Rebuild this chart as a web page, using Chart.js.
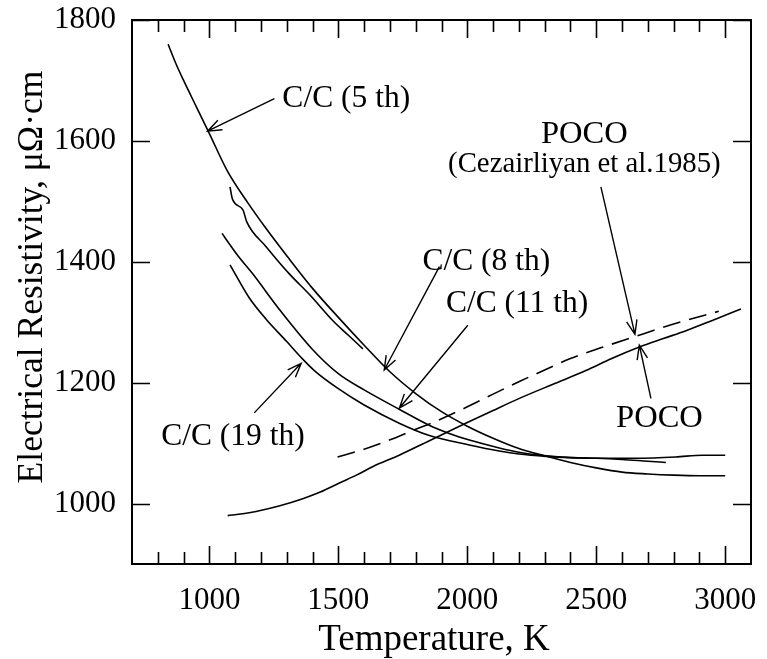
<!DOCTYPE html>
<html>
<head>
<meta charset="UTF-8">
<title>Electrical resistivity vs temperature</title>
<script src="https://cdn.jsdelivr.net/npm/chart.js"></script>
<style>
  html, body { margin: 0; padding: 0; background: #fff; }
  #wrap { width: 767px; height: 659px; position: relative; }
</style>
</head>
<body>
<div id="wrap"><canvas id="c"></canvas></div>
<script>
const FONT = "'Liberation Serif', 'Times New Roman', serif";

// tick labels
const xTicks = [1000, 1500, 2000, 2500, 3000];
const yTicks = [1000, 1200, 1400, 1600, 1800];

// C/C (5 th)
const cc5T = [840, 870, 900, 950, 1000, 1070, 1150, 1220, 1300, 1400, 1500, 1600, 1700, 1800, 1900, 2000, 2100, 2200, 2300, 2400, 2500, 2600, 2700, 2800, 2900, 3000];
const cc5R = [1760, 1728, 1700, 1656, 1612, 1550, 1497, 1455, 1410, 1356, 1308, 1262, 1218, 1182, 1152, 1128, 1108, 1091, 1079, 1068, 1059, 1052, 1049, 1047, 1046, 1046];

// C/C (8 th)
const cc8T = [1080, 1090, 1130, 1145, 1220, 1310, 1390, 1480, 1540, 1595];
const cc8R = [1524, 1503, 1486, 1466, 1425, 1380, 1345, 1302, 1278, 1256];

// C/C (11 th)
const cc11T = [1049, 1080, 1116, 1168, 1270, 1400, 1500, 1600, 1736, 1850, 1930, 2008, 2124, 2200, 2306, 2400, 2500, 2600, 2700, 2770];
const cc11R = [1447, 1428, 1407, 1380, 1322, 1255, 1215, 1188, 1156, 1130, 1116, 1105, 1092, 1085, 1079, 1076, 1075, 1073, 1070, 1068];

// C/C (19 th)
const cc19T = [1080, 1155, 1220, 1300, 1355, 1407, 1500, 1600, 1736, 1850, 2008, 2124, 2200, 2306, 2400, 2523, 2650, 2808, 2911, 3000];
const cc19R = [1395, 1340, 1305, 1268, 1242, 1220, 1190, 1163, 1133, 1113, 1097, 1087, 1082, 1078, 1076, 1075, 1075, 1077, 1080, 1080];

// POCO (this work)
const pocoT = [1071, 1130, 1181, 1270, 1362, 1430, 1504, 1570, 1633, 1736, 1853, 2000, 2100, 2202, 2330, 2460, 2560, 2667, 2760, 2848, 2950, 3061];
const pocoR = [980, 983, 987, 996, 1008, 1019, 1034, 1047, 1061, 1080, 1104, 1134, 1154, 1174, 1197, 1220, 1240, 1259, 1273, 1286, 1303, 1322];

// POCO (Cezairliyan et al. 1985)
const cezT = [1497, 1600, 1698, 1800, 1872, 2000, 2100, 2202, 2300, 2400, 2520, 2641, 2800, 2975];
const cezR = [1077, 1090, 1105, 1123, 1135, 1160, 1181, 1202, 1221, 1240, 1258, 1275, 1297, 1318];

function pts(t, r) { return t.map((v, i) => ({ x: v, y: r[i] })); }

// annotation texts (data units, baseline)
const notes = [
  { text: 'C/C (5 th)', x: 1283, y: 1656, size: 31.5, align: 'left' },
  { text: 'POCO', x: 2454, y: 1596, size: 32.5, align: 'center' },
  { text: '(Cezairliyan et al.1985)', x: 2454, y: 1549, size: 28.8, align: 'center' },
  { text: 'C/C (8 th)', x: 1826, y: 1386, size: 31.5, align: 'left' },
  { text: 'C/C (11 th)', x: 1917, y: 1317, size: 31.5, align: 'left' },
  { text: 'C/C (19 th)', x: 813, y: 1097, size: 31.5, align: 'left' },
  { text: 'POCO', x: 2577, y: 1127, size: 32.5, align: 'left' }
];
const arrows = [
  { from: [1252, 1670], to: [993, 1616] },
  { from: [2518, 1524], to: [2650, 1280] },
  { from: [1892, 1392], to: [1678, 1221] },
  { from: [2002, 1295], to: [1737, 1158] },
  { from: [1174, 1150], to: [1356, 1232] },
  { from: [2712, 1174], to: [2667, 1262] }
];

const line = (data, dash) => ({
  data: data,
  borderColor: '#000',
  borderWidth: 1.6,
  borderDash: dash || [],
  pointRadius: 0,
  fill: false,
  tension: 0.4,
  cubicInterpolationMode: 'monotone'
});

const decor = {
  id: 'decor',
  afterDraw(chart) {
    const ctx = chart.ctx;
    const a = chart.chartArea;
    const xs = chart.scales.x, ys = chart.scales.y;
    ctx.save();
    ctx.strokeStyle = '#000';
    ctx.fillStyle = '#000';
    // frame
    ctx.lineWidth = 2;
    ctx.strokeRect(a.left, a.top, a.right - a.left, a.bottom - a.top);
    // x ticks, top and bottom, inward
    ctx.lineWidth = 1.6;
    ctx.beginPath();
    for (let v = 800; v <= 3000; v += 100) {
      const px = Math.round(xs.getPixelForValue(v)) + 0.5;
      const len = xTicks.includes(v) ? 18 : 12;
      ctx.moveTo(px, a.bottom); ctx.lineTo(px, a.bottom - len);
      ctx.moveTo(px, a.top); ctx.lineTo(px, a.top + len);
    }
    // y ticks, left and right
    yTicks.forEach(v => {
      const py = Math.round(ys.getPixelForValue(v)) + 0.5;
      ctx.moveTo(a.left, py); ctx.lineTo(a.left + 18, py);
      ctx.moveTo(a.right, py); ctx.lineTo(a.right - 18, py);
    });
    ctx.stroke();

    // arrows
    ctx.lineWidth = 1.4;
    arrows.forEach(ar => {
      const x1 = xs.getPixelForValue(ar.from[0]), y1 = ys.getPixelForValue(ar.from[1]);
      const x2 = xs.getPixelForValue(ar.to[0]), y2 = ys.getPixelForValue(ar.to[1]);
      const ang = Math.atan2(y2 - y1, x2 - x1);
      const hl = 15, hw = 0.36;
      ctx.beginPath();
      ctx.moveTo(x1, y1); ctx.lineTo(x2, y2);
      ctx.moveTo(x2 - hl * Math.cos(ang - hw), y2 - hl * Math.sin(ang - hw));
      ctx.lineTo(x2, y2);
      ctx.lineTo(x2 - hl * Math.cos(ang + hw), y2 - hl * Math.sin(ang + hw));
      ctx.stroke();
    });

    // annotation texts
    ctx.textBaseline = 'alphabetic';
    notes.forEach(n => {
      ctx.font = n.size + 'px ' + FONT;
      ctx.textAlign = n.align;
      ctx.fillText(n.text, xs.getPixelForValue(n.x), ys.getPixelForValue(n.y));
    });

    // axis titles
    ctx.font = '37px ' + FONT;
    ctx.textAlign = 'center';
    ctx.fillText('Temperature, K', 434, 650);
    ctx.translate(33, 277);
    ctx.rotate(-Math.PI / 2);
    ctx.font = '35.5px ' + FONT;
    ctx.textBaseline = 'middle';
    ctx.fillText('Electrical Resistivity, μΩ·cm', 0, 0);
    ctx.restore();
  }
};

new Chart(document.getElementById('c'), {
  type: 'line',
  data: {
    datasets: [
      line(pts(cc5T, cc5R)),
      line(pts(cc8T, cc8R)),
      line(pts(cc11T, cc11R)),
      line(pts(cc19T, cc19R)),
      line(pts(pocoT, pocoR)),
      line(pts(cezT, cezR), [18, 9])
    ]
  },
  options: {
    responsive: true,
    maintainAspectRatio: false,
    animation: false,
    layout: { padding: { top: 20, right: 16, left: 0, bottom: 0 } },
    plugins: { legend: { display: false }, tooltip: { enabled: false } },
    scales: {
      x: {
        type: 'linear',
        min: 700,
        max: 3100,
        grid: { display: false, drawTicks: false },
        border: { display: false },
        ticks: { color: '#000', font: { family: FONT, size: 31 }, padding: 18, callback: v => String(v) },
        afterBuildTicks: s => { s.ticks = xTicks.map(v => ({ value: v })); },
        afterFit: s => { s.height = 95; s.paddingLeft = 0; s.paddingRight = 0; }
      },
      y: {
        type: 'linear',
        min: 900,
        max: 1800,
        grid: { display: false, drawTicks: false },
        border: { display: false },
        ticks: { color: '#000', font: { family: FONT, size: 31 }, padding: 16, callback: v => String(v) },
        afterBuildTicks: s => { s.ticks = yTicks.map(v => ({ value: v })); },
        afterFit: s => { s.width = 132; s.paddingTop = 0; s.paddingBottom = 0; }
      }
    }
  },
  plugins: [decor]
});
</script>
</body>
</html>
